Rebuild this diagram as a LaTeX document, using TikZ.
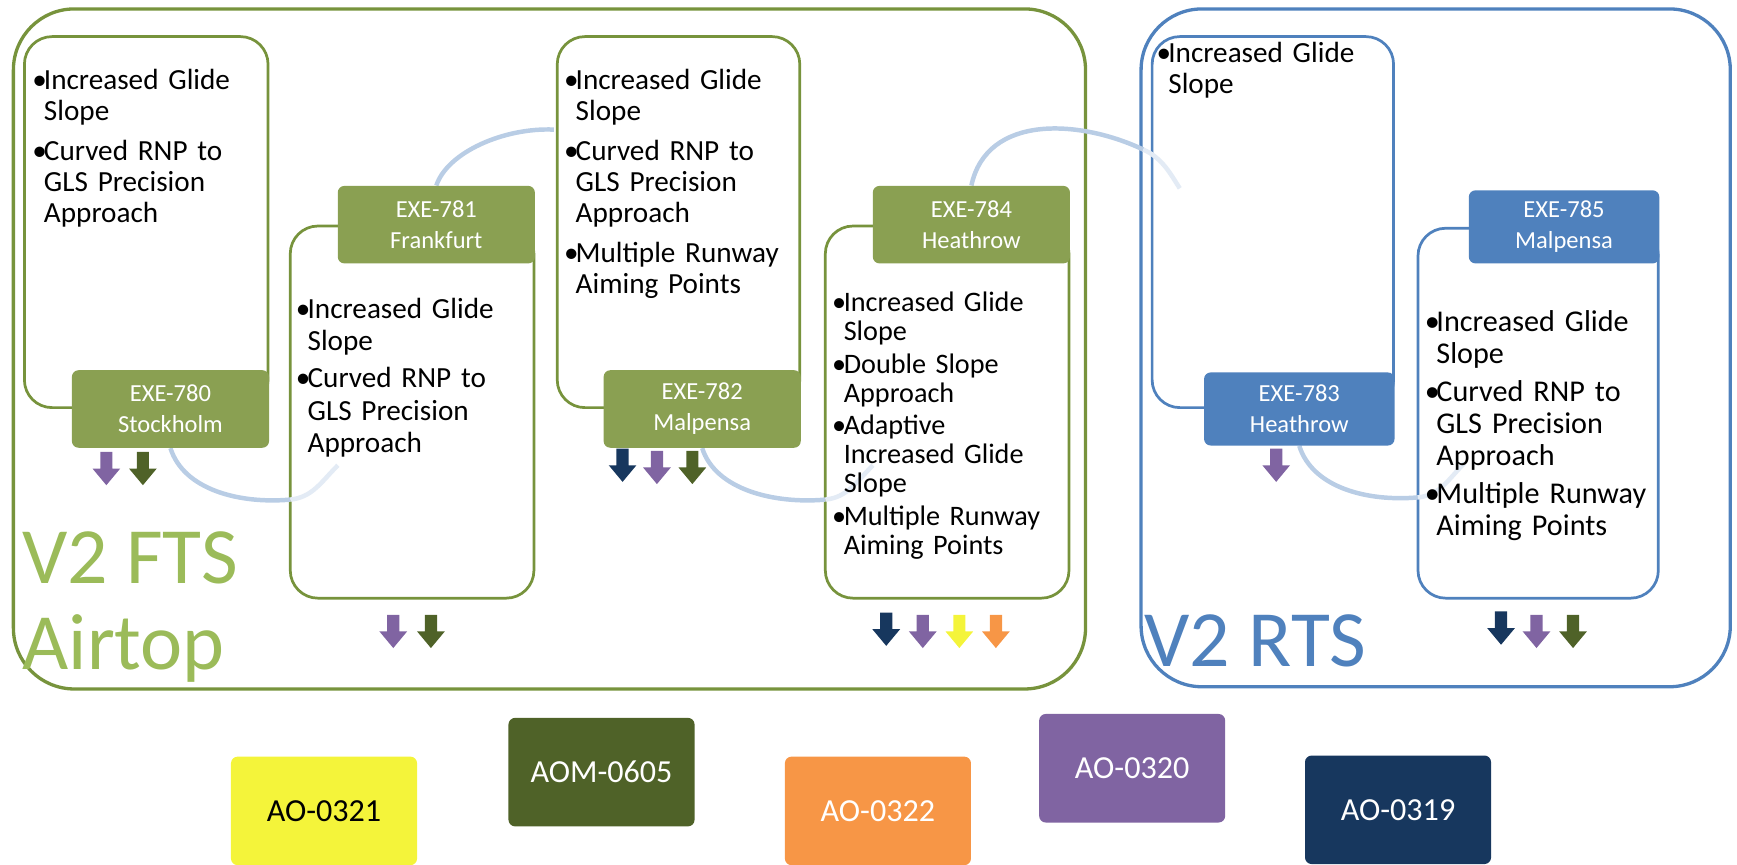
\documentclass[tikz,border=0pt]{standalone}
\usepackage{fontspec}
\setmainfont{Carlito}
\usetikzlibrary{positioning,calc}

\definecolor{ftsline}{HTML}{77933C}
\definecolor{ftsfill}{HTML}{8AA052}
\definecolor{ftstext}{HTML}{9BBB59}
\definecolor{rtsblue}{HTML}{4F81BD}
\definecolor{arcblue}{HTML}{B9CDE5}
\definecolor{aoyellow}{HTML}{F4F43A}
\definecolor{aogreen}{HTML}{4F6228}
\definecolor{aoorange}{HTML}{F79646}
\definecolor{aopurple}{HTML}{8064A2}
\definecolor{aonavy}{HTML}{17375E}

\pgfdeclarelayer{boxes}
\pgfdeclarelayer{links}
\pgfsetlayers{boxes,links,main}

\newlength{\bulgap}
\setlength{\bulgap}{4.5pt}
\newcommand{\bul}[1]{\hangindent=6pt\hangafter=1\noindent\makebox[6pt][l]{\textbullet}#1\par\vspace{\bulgap}}

\begin{document}
\begin{tikzpicture}[
        x=0.02cm, y=-0.02cm,
        outerbox/.style={line width=1.7pt, rounded corners=1.1cm, inner sep=0},
        itembox/.style={draw=ftsline, line width=1.4pt, fill=white, rounded corners=0.5cm, minimum width=4.4cm, minimum height=6.7cm, inner sep=0},
        items/.style={anchor=north west, inner sep=0, text width=4.3cm, align=left, font=\fontsize{15}{16}\selectfont},
        lblg/.style={fill=ftsfill, rounded corners=0.12cm, minimum width=3.56cm, minimum height=1.4cm, inner sep=0, text=white, align=center, font=\fontsize{12.6}{16}\selectfont},
        lblb/.style={lblg, fill=rtsblue, minimum width=3.44cm, minimum height=1.32cm},
        arcline/.style={draw=arcblue, line width=2.3pt},
        arcfade/.style={draw=arcblue!40, line width=2.3pt},
        bigtxt/.style={font=\fontsize{41}{44}\selectfont, inner sep=0, anchor=base west},
        legend/.style={rounded corners=0.12cm, minimum width=3.36cm, minimum height=1.96cm, inner sep=0, text=white, font=\fontsize{16.5}{20}\selectfont},
        dnarrow/.pic={\fill[pic actions] (-5.5,0) -- (5.5,0) -- (5.5,15) -- (12.5,15) -- (0,30) -- (-12.5,15) -- (-5.5,15) -- cycle;}
    ]
        \useasboundingbox (0,0) rectangle (1568,780);

        \begin{pgfonlayer}{boxes}
        % Groups
        \node (fts) [outerbox, draw=ftsline, minimum width=19.36cm, minimum height=12.28cm] at (496,315) {};
        \node (rts) [outerbox, draw=rtsblue, minimum width=10.64cm, minimum height=12.24cm] at (1296,314) {};

        % Bullet boxes
        \node (b780) [itembox] at (132,200.5) {};
        \node (b781) [itembox, minimum height=6.72cm] at (372,372) {};
        \node (b782) [itembox, minimum width=4.38cm] at (612.5,200.5) {};
        \node (b784) [itembox, minimum height=6.72cm] at (855,372) {};
        \node (b783) [itembox, draw=rtsblue, minimum width=4.36cm] at (1149,200.5) {};
        \node (b785) [itembox, draw=rtsblue, minimum width=4.34cm, minimum height=6.68cm] at (1388.5,373) {};
        \end{pgfonlayer}

        % Step labels
        \node (l780) [lblg, anchor=east] at (b780.south east) {EXE-780\\Stockholm};
        \node (l781) [lblg, anchor=east] at (b781.north east) {EXE-781\\Frankfurt};
        \node (l782) [lblg, anchor=east] at (b782.south east) {EXE-782\\Malpensa};
        \node (l784) [lblg, anchor=east] at (b784.north east) {EXE-784\\Heathrow};
        \node (l783) [lblb, anchor=east] at (b783.south east) {EXE-783\\Heathrow};
        \node (l785) [lblb, anchor=east] at (b785.north east) {EXE-785\\Malpensa};

        % Arcs between steps
        \coordinate (m1) at (262,451);
        \coordinate (e1) at (305,420);
        \coordinate (m2) at (500,117);
        \coordinate (m3) at (745,451);
        \coordinate (e3) at (788,420);
        \coordinate (m4) at (1032,135);
        \coordinate (e4) at (1065,170);
        \coordinate (m5) at (1280,449);
        \coordinate (e5) at (1322,418);

        \begin{pgfonlayer}{links}
        \draw [arcline] (l780.south) .. controls +(12,38) and +(-45,4) .. (m1);
        \draw [arcfade] (m1) .. controls +(20,-2) and +(-15,15) .. (e1);
        \draw [arcline] (l781.north) .. controls +(10,-30) and +(-45,-2) .. (m2);
        \draw [arcline] (l782.south) .. controls +(12,38) and +(-45,4) .. (m3);
        \draw [arcfade] (m3) .. controls +(20,-2) and +(-15,15) .. (e3);
        \draw [arcline] (l784.north) .. controls +(14,-65) and +(-57,-27) .. (m4);
        \draw [arcfade] (m4) .. controls +(18,8) and +(-8,-12) .. (e4);
        \draw [arcline] (l783.south) .. controls +(12,38) and +(-45,4) .. (m5);
        \draw [arcfade] (m5) .. controls +(20,-2) and +(-15,15) .. (e5);
        \end{pgfonlayer}

        % Bullet texts
        \node (t780) [items] at ($(b780.north west)+(8,30)$) {\bul{Increased Glide\newline Slope}\bul{Curved RNP to\newline GLS Precision\newline Approach}};
        \node (t781) [items, font=\fontsize{15}{16.5}\selectfont\setlength{\bulgap}{2.7pt}] at ($(b781.north west)+(6,66)$) {\bul{Increased Glide\newline Slope}\bul{Curved RNP to\newline GLS Precision\newline Approach}};
        \node (t782) [items] at ($(b782.north west)+(7,30)$) {\bul{Increased Glide\newline Slope}\bul{Curved RNP to\newline GLS Precision\newline Approach}\bul{Multiple Runway\newline Aiming Points}};
        \node (t784) [items, font=\fontsize{14.5}{14.9}\selectfont\setlength{\bulgap}{2pt}] at ($(b784.north west)+(7,60)$) {\bul{Increased Glide\newline Slope}\bul{Double Slope\newline Approach}\bul{Adaptive\newline Increased Glide\newline Slope}\bul{Multiple Runway\newline Aiming Points}};
        \node (t783) [items] at ($(b783.north west)+(5,6)$) {\bul{Increased Glide\newline Slope}};
        \node (t785) [items, font=\fontsize{15.5}{16.5}\selectfont\setlength{\bulgap}{3pt}] at ($(b785.north west)+(7,75)$) {\bul{Increased Glide\newline Slope}\bul{Curved RNP to\newline GLS Precision\newline Approach}\bul{Multiple Runway\newline Aiming Points}};

        % Linked items
        \pic [fill=aopurple] at (96,408) {dnarrow};
        \pic [fill=aogreen] at (129,408) {dnarrow};
        \pic [fill=aopurple] at (355,555) {dnarrow};
        \pic [fill=aogreen] at (389,555) {dnarrow};
        \pic [fill=aonavy] at (562,405) {dnarrow};
        \pic [fill=aopurple] at (593,407) {dnarrow};
        \pic [fill=aogreen] at (625,407) {dnarrow};
        \pic [fill=aonavy] at (800,553) {dnarrow};
        \pic [fill=aopurple] at (833,555) {dnarrow};
        \pic [fill=aoyellow] at (866,555) {dnarrow};
        \pic [fill=aoorange] at (899,555) {dnarrow};
        \pic [fill=aopurple] at (1152,405) {dnarrow};
        \pic [fill=aonavy] at (1355,552) {dnarrow};
        \pic [fill=aopurple] at (1387,555) {dnarrow};
        \pic [fill=aogreen] at (1420,555) {dnarrow};

        % Group titles
        \node (fts1) [bigtxt, text=ftstext] at (20,527) {V2 FTS};
        \node (fts2) [bigtxt, text=ftstext] at (20,604) {Airtop};
        \node (rts1) [bigtxt, text=rtsblue] at (1033,602) {V2 RTS};

        % Legend
        \node (ao321) [legend, fill=aoyellow, text=black] at (292.5,732) {AO-0321};
        \node (aom605) [legend, fill=aogreen] at (543,697) {AOM-0605};
        \node (ao322) [legend, fill=aoorange] at (792.5,732) {AO-0322};
        \node (ao320) [legend, fill=aopurple] at (1022,693.5) {AO-0320};
        \node (ao319) [legend, fill=aonavy] at (1262,731) {AO-0319};

    \end{tikzpicture}
\end{document}
